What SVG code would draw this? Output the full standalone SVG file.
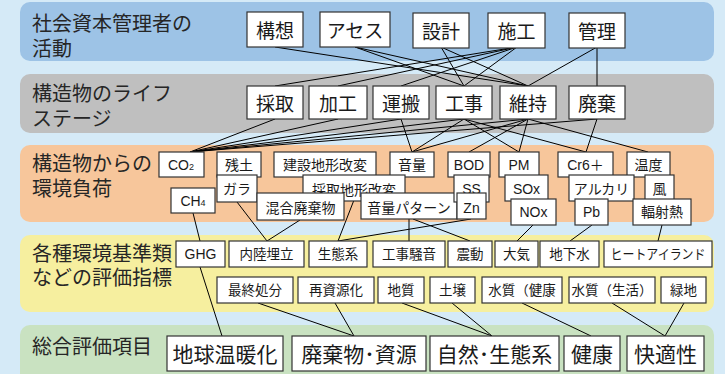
<svg xmlns="http://www.w3.org/2000/svg" width="725" height="374" viewBox="0 0 725 374">
<style>
.lbl{font-family:"Liberation Sans","Noto Sans CJK JP",sans-serif;font-size:20px;fill:#262626}
.bx{fill:#fff;stroke:#333;stroke-width:1.2}
.t{font-family:"Liberation Sans","Noto Sans CJK JP",sans-serif;fill:#1a1a1a;text-anchor:middle}
.f19{font-size:19px}
.f14{font-size:14px}
.f13{font-size:13.5px}
.f21{font-size:21px}
.cn line{stroke:#000;stroke-width:1}
</style>
<rect x="0" y="0" width="725" height="374" fill="#d5eaf7"/>
<g id="bands">
<rect x="20" y="2" width="694" height="59" rx="10" fill="#9dc3e6"/>
<rect x="20" y="74" width="694" height="59" rx="10" fill="#bfbfbf"/>
<rect x="20" y="145" width="694" height="77" rx="10" fill="#f7c69b"/>
<rect x="20" y="235" width="694" height="77" rx="10" fill="#f6ef9f"/>
<rect x="20" y="325" width="694" height="70" rx="10" fill="#c9e2c1"/>
<text class="lbl" x="32" y="31">社会資本管理者の</text>
<text class="lbl" x="32" y="56">活動</text>
<text class="lbl" x="32" y="101">構造物のライフ</text>
<text class="lbl" x="32" y="126">ステージ</text>
<text class="lbl" x="32" y="171">構造物からの</text>
<text class="lbl" x="32" y="196">環境負荷</text>
<text class="lbl" x="32" y="261">各種環境基準類</text>
<text class="lbl" x="32" y="285">などの評価指標</text>
<text class="lbl" x="32" y="354">総合評価項目</text>
</g>
<g id="connectors" class="cn">
<line x1="275" y1="47" x2="528" y2="86"/>
<line x1="355" y1="47" x2="464" y2="86"/>
<line x1="355" y1="47" x2="528" y2="86"/>
<line x1="441" y1="47" x2="464" y2="86"/>
<line x1="441" y1="47" x2="528" y2="86"/>
<line x1="517" y1="47" x2="275" y2="86"/>
<line x1="517" y1="47" x2="338" y2="86"/>
<line x1="517" y1="47" x2="401" y2="86"/>
<line x1="517" y1="47" x2="464" y2="86"/>
<line x1="597" y1="47" x2="528" y2="86"/>
<line x1="597" y1="47" x2="597" y2="86"/>
<line x1="275" y1="119" x2="190" y2="152"/>
<line x1="338" y1="119" x2="190" y2="152"/>
<line x1="401" y1="119" x2="190" y2="152"/>
<line x1="464" y1="119" x2="190" y2="152"/>
<line x1="528" y1="119" x2="190" y2="152"/>
<line x1="597" y1="119" x2="190" y2="152"/>
<line x1="401" y1="119" x2="412" y2="152"/>
<line x1="464" y1="119" x2="412" y2="152"/>
<line x1="464" y1="119" x2="519" y2="152"/>
<line x1="528" y1="119" x2="412" y2="152"/>
<line x1="528" y1="119" x2="469" y2="152"/>
<line x1="528" y1="119" x2="519" y2="152"/>
<line x1="528" y1="119" x2="648" y2="152"/>
<line x1="464" y1="119" x2="586" y2="152"/>
<line x1="597" y1="119" x2="586" y2="152"/>
<line x1="193" y1="213" x2="200" y2="241"/>
<line x1="237" y1="202" x2="267" y2="241"/>
<line x1="300" y1="220" x2="267" y2="241"/>
<line x1="354" y1="200" x2="338" y2="241"/>
<line x1="471" y1="219" x2="338" y2="241"/>
<line x1="409" y1="219" x2="409" y2="241"/>
<line x1="413" y1="219" x2="470" y2="241"/>
<line x1="533" y1="225" x2="517" y2="241"/>
<line x1="592" y1="225" x2="570" y2="241"/>
<line x1="662" y1="225" x2="658" y2="241"/>
<line x1="200" y1="267" x2="222" y2="336"/>
<line x1="258" y1="303" x2="354" y2="336"/>
<line x1="335" y1="303" x2="354" y2="336"/>
<line x1="402" y1="303" x2="492" y2="336"/>
<line x1="452" y1="303" x2="492" y2="336"/>
<line x1="522" y1="303" x2="591" y2="336"/>
<line x1="612" y1="303" x2="665" y2="336"/>
<line x1="684" y1="303" x2="665" y2="336"/>
</g>
<g id="n-kousou"><rect class="bx" x="247" y="12" width="56" height="35"/><text class="t f19" x="275" y="38">構想</text></g>
<g id="n-asesu"><rect class="bx" x="320" y="12" width="70" height="35"/><text class="t f19" x="355" y="38">アセス</text></g>
<g id="n-sekkei"><rect class="bx" x="413" y="13" width="56" height="35"/><text class="t f19" x="441" y="39">設計</text></g>
<g id="n-sekou"><rect class="bx" x="488" y="13" width="57" height="35"/><text class="t f19" x="516.5" y="39">施工</text></g>
<g id="n-kanri"><rect class="bx" x="569" y="13" width="56" height="35"/><text class="t f19" x="597" y="39">管理</text></g>

<g id="n-saishu"><rect class="bx" x="247" y="86" width="56" height="33"/><text class="t f19" x="275" y="111">採取</text></g>
<g id="n-kakou"><rect class="bx" x="309" y="86" width="58" height="33"/><text class="t f19" x="338" y="111">加工</text></g>
<g id="n-unpan"><rect class="bx" x="373" y="86" width="56" height="33"/><text class="t f19" x="401" y="111">運搬</text></g>
<g id="n-kouji"><rect class="bx" x="436" y="86" width="56" height="33"/><text class="t f19" x="464" y="111">工事</text></g>
<g id="n-iji"><rect class="bx" x="500" y="86" width="56" height="33"/><text class="t f19" x="528" y="111">維持</text></g>
<g id="n-haiki"><rect class="bx" x="569" y="86" width="56" height="33"/><text class="t f19" x="597" y="111">廃棄</text></g>

<g id="n-co2"><rect class="bx" x="159" y="152" width="45" height="25"/><text class="t f14" x="181" y="170">CO<tspan font-size="9">2</tspan></text></g>
<g id="n-zando"><rect class="bx" x="217" y="152" width="44" height="25"/><text class="t f14" x="239" y="170">残土</text></g>
<g id="n-kensetsu"><rect class="bx" x="274" y="152" width="102" height="25"/><text class="t f14" x="325" y="170">建設地形改変</text></g>
<g id="n-onryou"><rect class="bx" x="390" y="152" width="44" height="25"/><text class="t f14" x="412" y="170">音量</text></g>
<g id="n-bod"><rect class="bx" x="448" y="152" width="42" height="25"/><text class="t f14" x="469" y="170">BOD</text></g>
<g id="n-pm"><rect class="bx" x="499" y="152" width="40" height="25"/><text class="t f14" x="519" y="170">PM</text></g>
<g id="n-cr6"><rect class="bx" x="558" y="152" width="55" height="25"/><text class="t f14" x="585.5" y="170">Cr6＋</text></g>
<g id="n-ondo"><rect class="bx" x="627" y="152" width="43" height="25"/><text class="t f14" x="648.5" y="170">温度</text></g>
<g id="n-ch4"><rect class="bx" x="171" y="188" width="44" height="25"/><text class="t f14" x="193" y="206">CH<tspan font-size="9">4</tspan></text></g>
<g id="n-gara"><rect class="bx" x="217" y="175" width="40" height="27"/><text class="t f14" x="237" y="194">ガラ</text></g>
<g id="n-saishuchikei"><rect class="bx" x="303" y="175" width="102" height="26"/><text class="t f14" x="354" y="195">採取地形改変</text></g>
<g id="n-kongou"><rect class="bx" x="257" y="193" width="87" height="27"/><text class="t f14" x="300.5" y="213">混合廃棄物</text></g>
<g id="n-onryoupattern"><rect class="bx" x="361" y="193" width="96" height="26"/><text class="t f14" x="409" y="213">音量パターン</text></g>
<g id="n-ss"><rect class="bx" x="454" y="175" width="35" height="27"/><text class="t f14" x="471.5" y="194">SS</text></g>
<g id="n-zn"><rect class="bx" x="457" y="193" width="29" height="26"/><text class="t f14" x="471.5" y="213">Zn</text></g>
<g id="n-sox"><rect class="bx" x="505" y="175" width="43" height="26"/><text class="t f14" x="526.5" y="194">SOx</text></g>
<g id="n-nox"><rect class="bx" x="511" y="199" width="45" height="26"/><text class="t f14" x="533.5" y="217">NOx</text></g>
<g id="n-alkali"><rect class="bx" x="569" y="175" width="65" height="26"/><text class="t f14" x="601.5" y="194">アルカリ</text></g>
<g id="n-pb"><rect class="bx" x="575" y="199" width="33" height="26"/><text class="t f14" x="591.5" y="217">Pb</text></g>
<g id="n-kaze"><rect class="bx" x="645" y="175" width="29" height="26"/><text class="t f14" x="659.5" y="194">風</text></g>
<g id="n-fukusha"><rect class="bx" x="633" y="199" width="58" height="26"/><text class="t f14" x="662" y="217">輻射熱</text></g>

<g id="n-ghg"><rect class="bx" x="176" y="241" width="49" height="26"/><text class="t f14" x="200.5" y="259">GHG</text></g>
<g id="n-nairiku"><rect class="bx" x="229" y="241" width="75" height="26"/><text class="t f13" x="266.5" y="259">内陸埋立</text></g>
<g id="n-seitaikei"><rect class="bx" x="309" y="241" width="58" height="26"/><text class="t f13" x="338" y="259">生態系</text></g>
<g id="n-souon"><rect class="bx" x="373" y="241" width="72" height="26"/><text class="t f13" x="409" y="259">工事騒音</text></g>
<g id="n-shindou"><rect class="bx" x="448" y="241" width="44" height="26"/><text class="t f13" x="470" y="259">震動</text></g>
<g id="n-taiki"><rect class="bx" x="495" y="241" width="43" height="26"/><text class="t f13" x="516.5" y="259">大気</text></g>
<g id="n-chikasui"><rect class="bx" x="540" y="241" width="59" height="26"/><text class="t f13" x="569.5" y="259">地下水</text></g>
<g id="n-heat"><rect class="bx" x="604" y="241" width="108" height="26"/><text class="t f13" x="658" y="259" textLength="95" lengthAdjust="spacingAndGlyphs">ヒートアイランド</text></g>

<g id="n-saishuushobun"><rect class="bx" x="217" y="277" width="76" height="26"/><text class="t f13" x="255" y="295">最終処分</text></g>
<g id="n-saishigen"><rect class="bx" x="298" y="277" width="76" height="26"/><text class="t f13" x="336" y="295">再資源化</text></g>
<g id="n-chishitsu"><rect class="bx" x="378" y="277" width="46" height="26"/><text class="t f13" x="401" y="295">地質</text></g>
<g id="n-dojou"><rect class="bx" x="430" y="277" width="45" height="26"/><text class="t f13" x="452.5" y="295">土壌</text></g>
<g id="n-suishitsu1"><rect class="bx" x="482" y="277" width="80" height="26"/><text class="t f13" x="522" y="295">水質（健康</text></g>
<g id="n-suishitsu2"><rect class="bx" x="569" y="277" width="86" height="26"/><text class="t f13" x="612" y="295">水質（生活）</text></g>
<g id="n-ryokuchi"><rect class="bx" x="661" y="277" width="45" height="26"/><text class="t f13" x="683.5" y="295">緑地</text></g>

<g id="n-ondanka"><rect class="bx" x="167" y="336" width="116" height="35"/><text class="t f21" x="225" y="362">地球温暖化</text></g>
<g id="n-haikibutsu"><rect class="bx" x="292" y="336" width="134" height="35"/><text class="t f21" x="359" y="362">廃棄物･資源</text></g>
<g id="n-shizen"><rect class="bx" x="430" y="336" width="129" height="35"/><text class="t f21" x="494.5" y="362">自然･生態系</text></g>
<g id="n-kenkou"><rect class="bx" x="564" y="336" width="56" height="35"/><text class="t f21" x="592" y="362">健康</text></g>
<g id="n-kaiteki"><rect class="bx" x="627" y="336" width="77" height="35"/><text class="t f21" x="665.5" y="362">快適性</text></g>
</svg>
